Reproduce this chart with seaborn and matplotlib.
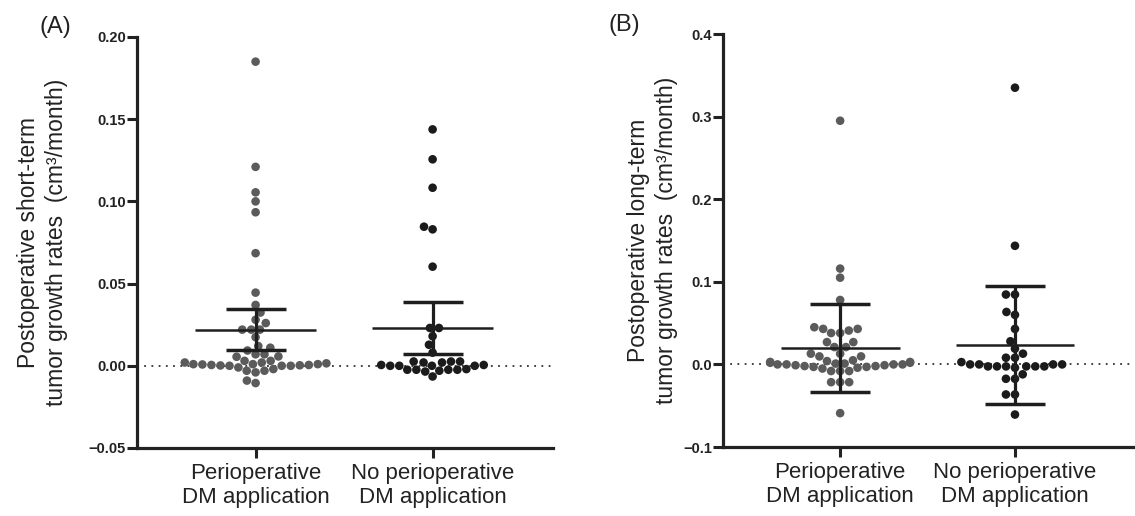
import numpy as np
import pandas as pd
import matplotlib
matplotlib.use("Agg")
import matplotlib.pyplot as plt
import seaborn as sns

groups = ["Perioperative\nDM application", "No perioperative\nDM application"]

# (A) short-term growth rates, cm3/month
short_peri = [0.185, 0.121, 0.1055, 0.100, 0.0934, 0.0685, 0.0445, 0.037, 0.0324,
              0.028, 0.026, 0.022, 0.022, 0.022, 0.0174, 0.012, 0.011, 0.0093,
              0.007, 0.007, 0.0057, 0.0055, 0.003, 0.003, 0.002, 0.002, 0.0015,
              0.001, 0.001, 0.001, 0.0008, 0.0005, 0.0005, 0.0003, 0.0002,
              0.0, 0.0, 0.0, -0.001, -0.002, -0.003, -0.003, -0.004, -0.009, -0.0105]
short_noperi = [0.1438, 0.1256, 0.1083, 0.0846, 0.083, 0.0603, 0.023, 0.023, 0.018,
                0.0128, 0.008, 0.0026, 0.0026, 0.0026, 0.002, 0.002, 0.0005, 0.0005,
                0.0, 0.0, 0.0, 0.0, -0.002, -0.0024, -0.0024, -0.0024, -0.0024,
                -0.003, -0.0035, -0.0065]

# (B) long-term growth rates, cm3/month
long_peri = [0.295, 0.116, 0.105, 0.078, 0.045, 0.043, 0.043, 0.041, 0.038, 0.038,
             0.027, 0.027, 0.021, 0.021, 0.013, 0.013, 0.0097, 0.0097,
             0.005, 0.004, 0.003, 0.003, 0.002, 0.002, 0.001, 0.001, 0.0, 0.0, 0.0, 0.0,
             -0.001, -0.001, -0.002, -0.002, -0.003, -0.003, -0.004, -0.005,
             -0.008, -0.008, -0.008, -0.0215, -0.0215, -0.0215, -0.059]
long_noperi = [0.335, 0.1436, 0.0846, 0.0846, 0.0635, 0.060, 0.043, 0.028, 0.019,
               0.013, 0.0081, 0.0081, 0.0028, 0.0, 0.0, 0.0, 0.0,
               -0.0024, -0.0024, -0.0024, -0.0024, -0.0024, -0.0024, -0.004,
               -0.012, -0.0174, -0.0174, -0.0364, -0.0364, -0.0607]

# mean line and error bar ends
short_mean = [0.022, 0.0229]
short_lo = [0.0097, 0.0069]
short_hi = [0.0346, 0.0387]
long_mean = [0.0198, 0.0234]
long_lo = [-0.034, -0.048]
long_hi = [0.0728, 0.095]

short_ticks = [-0.05, 0.0, 0.05, 0.10, 0.15, 0.20]
short_ticklabels = ["\u22120.05", "0.00", "0.05", "0.10", "0.15", "0.20"]
long_ticks = [-0.1, 0.0, 0.1, 0.2, 0.3, 0.4]
long_ticklabels = ["\u22120.1", "0.0", "0.1", "0.2", "0.3", "0.4"]

sns.set_theme(style="ticks")
plt.rcParams["font.family"] = ["Liberation Sans", "DejaVu Sans"]

colors = ["#5b5b5b", "#1b1b1b"]
line_col = "#1e1e1e"


def panel(ax, a, b, mean, lo, hi, ticks, ticklabels, ylim, ylabel, label_x):
    df = pd.DataFrame({"group": [groups[0]] * len(a) + [groups[1]] * len(b),
                       "rate": a + b})
    sns.swarmplot(data=df, x="group", y="rate", hue="group", order=groups,
                  hue_order=groups, palette=colors, size=6.2, linewidth=0,
                  legend=False, ax=ax, zorder=2, warn_thresh=1)
    ax.axhline(0, color="#333333", lw=1.3, ls=(0, (1, 3)), zorder=1)
    xs = np.arange(len(groups))
    ax.hlines(mean, xs - 0.34, xs + 0.34, color=line_col, lw=1.8, zorder=3)
    ax.vlines(xs, lo, hi, color=line_col, lw=2.3, zorder=3)
    ax.hlines(lo, xs - 0.17, xs + 0.17, color=line_col, lw=2.5, zorder=3)
    ax.hlines(hi, xs - 0.17, xs + 0.17, color=line_col, lw=2.5, zorder=3)

    ax.set_xlim(-0.67, 1.68)
    ax.set_ylim(*ylim)
    ax.set_yticks(ticks)
    ax.set_yticklabels(ticklabels, fontweight="bold", fontsize=10.5)
    ax.tick_params(axis="y", length=7, width=2.2, pad=1, colors="#222222")
    ax.tick_params(axis="x", length=7, width=2.2, pad=4, labelsize=16, colors="#222222")
    ax.set_xlabel("")
    ax.set_ylabel(ylabel, fontsize=16.5, color="#222222", linespacing=1.3)
    ax.yaxis.set_label_coords(label_x, 0.5)
    sns.despine(ax=ax)
    for s in ["left", "bottom"]:
        ax.spines[s].set_linewidth(2.3)
        ax.spines[s].set_color("#222222")


fig = plt.figure(figsize=(11.35, 5.16), dpi=100)
ax_a = fig.add_axes([0.1207, 0.1318, 0.3665, 0.7965])
ax_b = fig.add_axes([0.637, 0.1337, 0.362, 0.8004])

panel(ax_a, short_peri, short_noperi, short_mean, short_lo, short_hi,
      short_ticks, short_ticklabels, (-0.05, 0.20),
      "Postoperative short-term\ntumor growth rates  (cm\u00b3/month)", -0.166)
panel(ax_b, long_peri, long_noperi, long_mean, long_lo, long_hi,
      long_ticks, long_ticklabels, (-0.1, 0.4),
      "Postoperative long-term\ntumor growth rates  (cm\u00b3/month)", -0.109)

fig.text(0.035, 0.947, "(A)", fontsize=17, color="#222222", va="center")
fig.text(0.536, 0.951, "(B)", fontsize=17, color="#222222", va="center")

fig.savefig("out.png", dpi=100)
